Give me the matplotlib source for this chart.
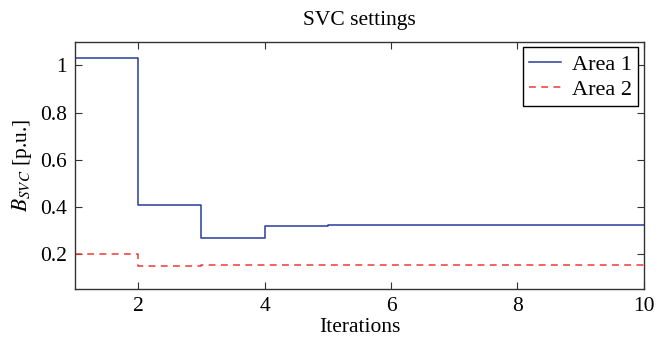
import numpy as np
import matplotlib
matplotlib.use("Agg")
import matplotlib.pyplot as plt

plt.rcParams['font.family'] = ['Liberation Serif', 'DejaVu Serif']
plt.rcParams['mathtext.fontset'] = 'stix'

# data
iterations = [1, 2, 3, 4, 5, 6, 7, 8, 9, 10]
area1 = [1.03, 0.406, 0.267, 0.316, 0.323, 0.323, 0.323, 0.323, 0.323, 0.323]
area2 = [0.200, 0.149, 0.151, 0.152, 0.152, 0.152, 0.152, 0.152, 0.152, 0.152]
xticks = [2, 4, 6, 8, 10]
yticks = [0.2, 0.4, 0.6, 0.8, 1.0]
ytick_labels = ['0.2', '0.4', '0.6', '0.8', '1']

fs = 15.5

fig = plt.figure(figsize=(6.7, 3.38), dpi=100)
ax = fig.add_axes([0.112, 0.145, 0.849, 0.731])

ax.step(iterations, area1, where='post', color='#2a3a9c', lw=1.1, label='Area 1')
ax.step(iterations, area2, where='post', color='#f03838', lw=1.1,
        ls=(0, (4.5, 3.5)), label='Area 2')

ax.set_xlim(1, 10)
ax.set_ylim(0.05, 1.1)
ax.set_xticks(xticks)
ax.set_yticks(yticks)
ax.set_yticklabels(ytick_labels)
ax.tick_params(direction='in', top=True, right=True, length=5, width=0.8,
               labelsize=fs, pad=6, color='#333333')
for s in ax.spines.values():
    s.set_linewidth(1.0)
    s.set_color('#333333')

ax.set_title('SVC settings', fontsize=fs, pad=12)
ax.set_xlabel('Iterations', fontsize=fs, labelpad=1)
ax.set_ylabel(r'$B_{SVC}$ [p.u.]', fontsize=fs, labelpad=4)

leg = ax.legend(loc='upper right', fontsize=fs + 0.5, fancybox=False, framealpha=1,
                edgecolor='black', handlelength=1.4, borderaxespad=0.25,
                borderpad=0.3, labelspacing=0.2, handletextpad=0.5)
leg.get_frame().set_linewidth(1.0)

fig.savefig('out.png', dpi=100)
